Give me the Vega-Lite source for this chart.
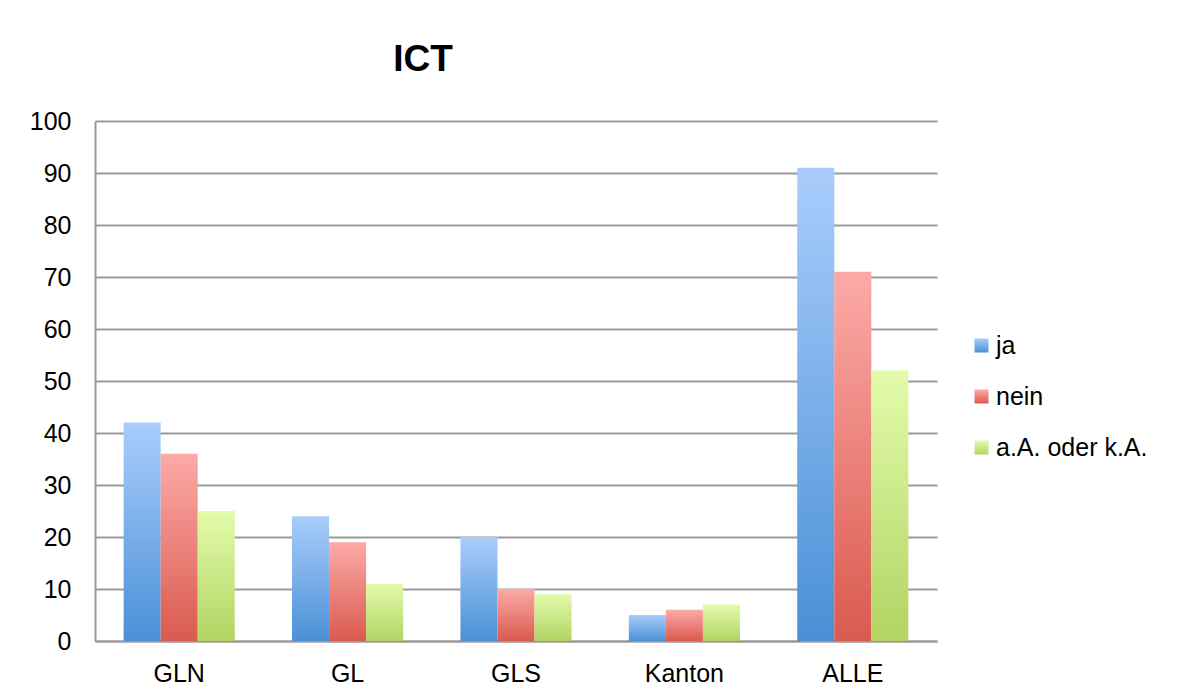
{
  "$schema": "https://vega.github.io/schema/vega-lite/v6.json",
  "width": 842,
  "height": 520,
  "autosize": {"type": "none"},
  "padding": {"left": 95, "top": 121, "right": 245, "bottom": 59},
  "background": "white",
  "title": {
    "text": "ICT",
    "fontSize": 37,
    "font": "Liberation Sans",
    "fontWeight": "bold",
    "color": "black",
    "anchor": "middle",
    "dx": -93,
    "offset": 30
  },
  "data": {
    "values": [
      {"region": "GLN", "answer": "ja", "count": 42},
      {"region": "GLN", "answer": "nein", "count": 36},
      {"region": "GLN", "answer": "a.A. oder k.A.", "count": 25},
      {"region": "GL", "answer": "ja", "count": 24},
      {"region": "GL", "answer": "nein", "count": 19},
      {"region": "GL", "answer": "a.A. oder k.A.", "count": 11},
      {"region": "GLS", "answer": "ja", "count": 20},
      {"region": "GLS", "answer": "nein", "count": 10},
      {"region": "GLS", "answer": "a.A. oder k.A.", "count": 9},
      {"region": "Kanton", "answer": "ja", "count": 5},
      {"region": "Kanton", "answer": "nein", "count": 6},
      {"region": "Kanton", "answer": "a.A. oder k.A.", "count": 7},
      {"region": "ALLE", "answer": "ja", "count": 91},
      {"region": "ALLE", "answer": "nein", "count": 71},
      {"region": "ALLE", "answer": "a.A. oder k.A.", "count": 52}
    ]
  },
  "mark": {"type": "bar"},
  "encoding": {
    "x": {
      "field": "region",
      "type": "nominal",
      "sort": ["GLN", "GL", "GLS", "Kanton", "ALLE"],
      "scale": {"paddingInner": 0.34, "paddingOuter": 0.17},
      "axis": {
        "title": null,
        "labelAngle": 0,
        "labelFont": "Liberation Sans",
        "labelFontSize": 25,
        "labelColor": "black",
        "labelPadding": 20,
        "ticks": false,
        "domainColor": "#999999",
        "domainWidth": 2
      }
    },
    "xOffset": {
      "field": "answer",
      "type": "nominal",
      "sort": ["ja", "nein", "a.A. oder k.A."],
      "scale": {"paddingInner": 0, "paddingOuter": 0}
    },
    "y": {
      "field": "count",
      "type": "quantitative",
      "scale": {"domain": [0, 100], "nice": false},
      "axis": {
        "title": null,
        "values": [0, 10, 20, 30, 40, 50, 60, 70, 80, 90, 100],
        "labelFont": "Liberation Sans",
        "labelFontSize": 25,
        "labelColor": "black",
        "labelPadding": 24,
        "ticks": false,
        "grid": true,
        "gridColor": "#999999",
        "gridWidth": 2,
        "domainColor": "#999999",
        "domainWidth": 2
      }
    },
    "color": {
      "field": "answer",
      "type": "nominal",
      "sort": ["ja", "nein", "a.A. oder k.A."],
      "scale": {
        "domain": ["ja", "nein", "a.A. oder k.A."],
        "range": [
          {"expr": "{gradient: 'linear', x1: 0, y1: 0, x2: 0, y2: 1, stops: [{offset: 0, color: '#a9cdfc'}, {offset: 1, color: '#4a90d6'}]}"},
          {"expr": "{gradient: 'linear', x1: 0, y1: 0, x2: 0, y2: 1, stops: [{offset: 0, color: '#fcaaa7'}, {offset: 1, color: '#da5a4f'}]}"},
          {"expr": "{gradient: 'linear', x1: 0, y1: 0, x2: 0, y2: 1, stops: [{offset: 0, color: '#e3fbab'}, {offset: 1, color: '#b1d463'}]}"}
        ]
      },
      "legend": {
        "title": null,
        "orient": "none",
        "legendX": 874,
        "legendY": 212,
        "symbolType": "square",
        "symbolSize": 196,
        "symbolStrokeWidth": 0,
        "labelFont": "Liberation Sans",
        "labelFontSize": 25,
        "labelColor": "black",
        "labelOffset": 2,
        "rowPadding": 25
      }
    }
  },
  "config": {
    "view": {"stroke": null}
  }
}
